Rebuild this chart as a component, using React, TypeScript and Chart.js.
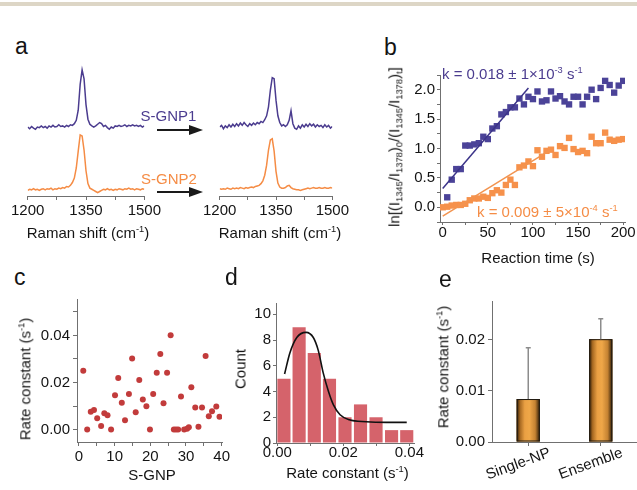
import React, { useEffect, useRef } from "react";
import { Chart, registerables } from "chart.js";

Chart.register(...registerables);

const FONT = '"Liberation Sans", Arial, Helvetica, sans-serif';
const AXIS = "#707070";
const INK = "#141414";
const PURPLE = "#4b3c8f";
const ORANGE = "#f58c45";
const PURPLE_PT = "#4b4398";
const ORANGE_PT = "#f6914b";
const RED_PT = "#c23b3b";
const BAR_RED = "#d5636b";

// ---------- Panel a: Raman spectra ----------
const wavenumbers = [
  1200, 1205, 1210, 1215, 1220, 1225, 1230, 1235, 1240, 1245,
  1250, 1255, 1260, 1265, 1270, 1275, 1280, 1285, 1290, 1295,
  1300, 1305, 1310, 1315, 1320, 1325, 1330, 1335, 1340, 1345,
  1350, 1355, 1360, 1365, 1370, 1375, 1380, 1385, 1390, 1395,
  1400, 1405, 1410, 1415, 1420, 1425, 1430, 1435, 1440, 1445,
  1450, 1455, 1460, 1465, 1470, 1475, 1480, 1485, 1490, 1495,
  1500,
];
const gnp1Before = [
  0.02, -0.01, 0.03, 0.0, -0.02, 0.02, 0.01, 0.04, 0.01, 0.03,
  0.0, 0.04, 0.02, 0.05, 0.02, 0.03, 0.06, 0.03, 0.04, 0.02,
  0.05, 0.03, 0.06, 0.05, 0.08, 0.14, 0.32, 0.78, 1.04, 0.88,
  0.42, 0.16, 0.07, 0.04, 0.02, 0.04, 0.07, 0.1, 0.08, 0.03,
  0.05, 0.01, -0.02, 0.02, 0.0, 0.04, 0.03, 0.05, 0.03, 0.04,
  0.06, 0.03, 0.05, 0.04, 0.06, 0.04, 0.05, 0.03, 0.05, 0.02,
  0.04,
];
const gnp2Before = [
  0.0, 0.02, 0.01, 0.03, 0.01, 0.02, 0.0, 0.02, 0.03, 0.01,
  0.03, 0.02, 0.04, 0.01, 0.03, 0.02, 0.04, 0.03, 0.05, 0.04,
  0.07, 0.06, 0.09, 0.14, 0.22, 0.4, 0.7, 0.99, 0.97, 0.72,
  0.35, 0.12, 0.04, 0.02, 0.0, -0.02, -0.04, -0.02, 0.0, 0.02,
  0.01, 0.03, 0.01, 0.02, 0.0, 0.02, 0.01, 0.03, 0.02, 0.01,
  0.03, 0.02, 0.04, 0.02, 0.03, 0.01, 0.03, 0.02, 0.01, 0.03,
  0.02,
];
const gnp1After = [
  0.02, 0.05, -0.01, 0.04, 0.01, 0.06, 0.02, 0.07, 0.03, 0.08,
  0.04, 0.09, 0.05, 0.1, 0.06, 0.03, 0.08, 0.05, 0.09, 0.06,
  0.1, 0.08, 0.12, 0.1, 0.15, 0.22, 0.38, 0.68, 0.9, 0.88,
  0.5, 0.22, 0.1, 0.04, 0.06, 0.03, 0.06, 0.14, 0.31, 0.08,
  0.0, -0.02, 0.04, 0.0, 0.06, 0.02, 0.07, 0.03, 0.08, 0.04,
  0.07, 0.02, 0.06, 0.03, 0.05, 0.01, 0.06, 0.02, 0.05, 0.0,
  0.03,
];
const gnp2After = [
  0.03, 0.02, 0.03, 0.02, 0.04, 0.03, 0.02, 0.04, 0.03, 0.04,
  0.03, 0.05, 0.04, 0.03, 0.05, 0.04, 0.05, 0.06, 0.05, 0.07,
  0.08, 0.09, 0.12, 0.17, 0.27, 0.45, 0.72, 0.9, 0.92, 0.7,
  0.34, 0.13, 0.06, 0.04, 0.04, 0.05, 0.08, 0.09, 0.05, 0.03,
  0.02, 0.01, 0.01, 0.0, 0.01, 0.02, 0.03, 0.04, 0.03, 0.04,
  0.05, 0.04, 0.04, 0.05, 0.04, 0.04, 0.05, 0.04, 0.04, 0.05,
  0.04,
];
const spectrumOffset = 1.11;

// ---------- Panel b: kinetics ----------
const timesPurple = [
  5, 10, 15, 20, 25, 30, 35, 40, 45, 50, 55, 60, 65, 70, 75, 80, 85, 90, 95, 100,
  105, 110, 115, 120, 125, 130, 135, 140, 145, 150, 155, 160, 165, 170, 175, 180, 185, 190, 195, 200,
];
const lnRatioPurple = [
  0.17, 0.47, 0.65, 0.65, 1.05, 1.05, 1.07, 1.09, 1.2, 1.16,
  1.34, 1.38, 1.58, 1.62, 1.7, 1.7, 1.85, 1.75, 1.88, 1.84,
  1.97, 1.8, 1.82, 1.97, 1.85, 1.89, 1.8, 1.75, 1.88, 1.88,
  1.75, 1.88, 2.0, 1.84, 2.03, 2.15, 2.08, 1.95, 2.07, 2.15,
];
const timesOrange = [
  0, 5, 10, 15, 20, 25, 30, 35, 40, 45, 50, 55, 60, 65, 70, 75, 80, 85, 90, 95, 100,
  105, 110, 115, 120, 125, 130, 135, 140, 145, 150, 155, 160, 165, 170, 175, 180, 185, 190, 195, 200,
];
const lnRatioOrange = [
  0.0, 0.01, 0.03, 0.04, 0.04, 0.06, 0.12, 0.15, 0.15, 0.18,
  0.16, 0.24, 0.29, 0.25, 0.38, 0.47, 0.38, 0.68, 0.71, 0.78,
  0.7, 0.97, 0.86, 0.96, 0.98, 0.89, 1.04, 1.01, 1.18, 0.99,
  0.94, 0.96, 0.92, 1.2, 1.09, 1.09, 1.27, 1.15, 1.13, 1.15,
  1.16,
];
const fitPurpleT = [0, 95];
const fitPurpleV = [0.32, 2.03];
const fitOrangeT = [0, 120];
const fitOrangeV = [-0.15, 0.98];

// ---------- Panel c: rate constants per S-GNP ----------
const gnpIndex = [
  1.2, 2.3, 3.3, 4.2, 5.1, 6.2, 7.1, 8.0, 9.0, 10.1,
  11.0, 12.0, 12.9, 14.0, 14.9, 15.9, 16.9, 17.9, 18.9, 19.9,
  20.8, 21.8, 22.8, 23.7, 24.7, 25.7, 26.6, 27.2, 27.8, 28.6,
  29.5, 30.3, 30.8, 31.5, 32.6, 33.5, 34.5, 35.5, 36.4, 37.3,
  38.5, 39.4,
];
const gnpRate = [
  0.025, 0.0, 0.0076, 0.0083, 0.0048, 0.0015, 0.0069, 0.0061, 0.0, 0.0146,
  0.0219, 0.0114, 0.0039, 0.0151, 0.0302, 0.0073, 0.0211, 0.0128, 0.0099, 0.0,
  0.0151, 0.0241, 0.0321, 0.0112, 0.0241, 0.0401, 0.0, 0.0, 0.0, 0.014,
  0.0, 0.0003, 0.001, 0.018, 0.0094, 0.0012, 0.0094, 0.0313, 0.0057, 0.0078,
  0.0098, 0.0054,
];

// ---------- Panel d: histogram ----------
const binCenters = [0.002, 0.0066, 0.0112, 0.0158, 0.0205, 0.0252, 0.0299, 0.0346, 0.0392];
const binCounts = [5, 9, 7, 5, 2, 3, 2, 1, 1];
const fitRateX = [0.0022, 0.0038, 0.0059, 0.0087, 0.0109, 0.0124, 0.0139, 0.0155, 0.017, 0.019, 0.0218, 0.0269, 0.033, 0.0392];
const fitCountY = [5.36, 7.0, 8.2, 8.6, 8.2, 7.2, 5.45, 4.0, 2.96, 2.2, 1.8, 1.65, 1.6, 1.6];

// ---------- Panel e: comparison ----------
const methods = ["Single-NP", "Ensemble"];
const meanRates = [0.0084, 0.0201];
const upperErr = [0.0184, 0.0241];

// ---------- helpers ----------
type Pad = { left: number; top: number; right: number; bottom: number };
interface Frame { left: number; top: number; width: number; height: number; padding: Pad }

function frame(L: number, T: number, R: number, B: number, yW: number, xH: number, pad: Pad): Frame {
  const left = L - yW - pad.left;
  const top = T - pad.top;
  return { left, top, width: R + pad.right - left, height: B + xH + pad.bottom - top, padding: pad };
}

function baseOptions(f: Frame): any {
  return {
    responsive: false,
    animation: false,
    events: [],
    layout: { padding: f.padding, autoPadding: false },
    plugins: { legend: { display: false }, tooltip: { enabled: false } },
  };
}

function axis(o: {
  axis: "x" | "y"; min: number; max: number; step: number; fmt: (v: number) => string;
  fixed: number; tl?: number; pad?: number; size?: number;
}): any {
  return {
    type: "linear",
    position: o.axis === "x" ? "bottom" : "left",
    min: o.min,
    max: o.max,
    offset: false,
    grid: { drawOnChartArea: false, drawTicks: true, tickLength: o.tl ?? 4, color: AXIS, lineWidth: 1, offset: false },
    border: { display: true, color: AXIS, width: 1 },
    ticks: {
      stepSize: o.step, includeBounds: false, autoSkip: false, maxRotation: 0, minRotation: 0, maxTicksLimit: 100,
      padding: o.pad ?? 3, color: INK, font: { family: FONT, size: o.size ?? 15 },
      callback: (v: any) => o.fmt(Number(v)),
    },
    afterFit: (s: any) => { if (o.axis === "x") s.height = o.fixed; else s.width = o.fixed; },
  };
}

function ChartCanvas({ f, make }: { f: Frame; make: () => any }) {
  const ref = useRef<HTMLCanvasElement>(null);
  useEffect(() => {
    let chart: any = null;
    try {
      chart = new Chart(ref.current as HTMLCanvasElement, make());
    } catch (e) {
      console.error(e);
    }
    return () => { if (chart) chart.destroy(); };
  }, []);
  return (
    <canvas
      ref={ref}
      width={f.width}
      height={f.height}
      style={{ position: "absolute", left: f.left, top: f.top, width: f.width, height: f.height }}
    />
  );
}

const Sup = ({ children }: { children: React.ReactNode }) => (
  <span style={{ fontSize: "0.62em", position: "relative", top: "-0.62em" }}>{children}</span>
);
const Sub = ({ children }: { children: React.ReactNode }) => (
  <span style={{ fontSize: "0.62em", position: "relative", top: "0.32em" }}>{children}</span>
);

function Label({ x, y, size = 15, color = INK, rotate = false, align = "center", children }: {
  x: number; y: number; size?: number; color?: string; rotate?: boolean; align?: "center" | "left"; children: React.ReactNode;
}) {
  const tx = align === "center" ? "-50%" : "0";
  return (
    <div
      style={{
        position: "absolute", left: x, top: y,
        transform: `translate(${tx}, -50%)${rotate ? " rotate(-90deg)" : ""}`,
        fontFamily: FONT, fontSize: size, color, whiteSpace: "nowrap", lineHeight: 1,
      }}
    >
      {children}
    </div>
  );
}

// ---------- chart configs ----------
const fALeft = frame(25, 62, 147, 196, 0, 30, { left: 16, top: 0, right: 16, bottom: 0 });
const fARight = frame(217, 62, 335, 196, 0, 30, { left: 16, top: 0, right: 16, bottom: 0 });

function spectrumConfig(f: Frame, top: number[], bottom: number[]) {
  return () => ({
    type: "line",
    data: {
      datasets: [
        { data: wavenumbers.map((w, i) => ({ x: w, y: top[i] + spectrumOffset })), borderColor: PURPLE, borderWidth: 1.5, pointRadius: 0, tension: 0 },
        { data: wavenumbers.map((w, i) => ({ x: w, y: bottom[i] })), borderColor: ORANGE, borderWidth: 1.5, pointRadius: 0, tension: 0 },
      ],
    },
    options: {
      ...baseOptions(f),
      scales: {
        x: axis({ axis: "x", min: 1200, max: 1500, step: 75, fixed: 30, size: 15, tl: 4, pad: 2,
          fmt: (v) => (Math.round(v - 1200) % 150 === 0 ? String(Math.round(v)) : "") }),
        y: { display: false, min: -0.1, max: 2.29 },
      },
    },
  });
}

const fB = frame(440, 70, 625, 222, 40, 22, { left: 0, top: 6, right: 12, bottom: 0 });
const makeB = () => ({
  type: "scatter",
  data: {
    datasets: [
      { data: fitPurpleT.map((t, i) => ({ x: t, y: fitPurpleV[i] })), showLine: true, borderColor: "#3c3489", borderWidth: 1.5, pointRadius: 0 },
      { data: fitOrangeT.map((t, i) => ({ x: t, y: fitOrangeV[i] })), showLine: true, borderColor: "#f29450", borderWidth: 1.5, pointRadius: 0 },
      { data: timesPurple.map((t, i) => ({ x: t, y: lnRatioPurple[i] })), pointStyle: "rect", pointRadius: 4.5, backgroundColor: PURPLE_PT, borderWidth: 0 },
      { data: timesOrange.map((t, i) => ({ x: t, y: lnRatioOrange[i] })), pointStyle: "rect", pointRadius: 4.5, backgroundColor: ORANGE_PT, borderWidth: 0 },
    ],
  },
  options: {
    ...baseOptions(fB),
    scales: {
      x: axis({ axis: "x", min: -3, max: 202, step: 25, fixed: 22, tl: 3, pad: -1,
        fmt: (v) => (Math.round(v) % 50 === 0 ? String(Math.round(v)) : "") }),
      y: axis({ axis: "y", min: -0.25, max: 2.25, step: 0.25, fixed: 40, tl: 3, pad: 2,
        fmt: (v) => (Math.abs(Math.round(v * 4)) % 2 === 0 ? v.toFixed(1) : "") }),
    },
  },
});

const fC = frame(77, 293, 222, 442, 45, 34, { left: 0, top: 6, right: 14, bottom: 0 });
const makeC = () => ({
  type: "scatter",
  data: {
    datasets: [
      { data: gnpIndex.map((n, i) => ({ x: n, y: gnpRate[i] })), pointRadius: 3, backgroundColor: RED_PT, borderWidth: 0 },
    ],
  },
  options: {
    ...baseOptions(fC),
    scales: {
      x: axis({ axis: "x", min: -0.56, max: 40.1, step: 5, fixed: 34, tl: 4, pad: 2,
        fmt: (v) => (Math.round(v) % 10 === 0 ? String(Math.round(v)) : "") }),
      y: axis({ axis: "y", min: -0.0053, max: 0.0555, step: 0.01, fixed: 45, tl: 4, pad: 3,
        fmt: (v) => (Math.round(v * 100) % 2 === 0 ? v.toFixed(2) : "") }),
    },
  },
});

const fD = frame(276, 298, 414, 443, 35, 30, { left: 0, top: 6, right: 16, bottom: 0 });
const makeD = () => ({
  type: "bar",
  data: {
    datasets: [
      { type: "line", data: fitRateX.map((r, i) => ({ x: r, y: fitCountY[i] })), borderColor: "#111", borderWidth: 1.6, pointRadius: 0, cubicInterpolationMode: "monotone" },
      { type: "bar", data: binCenters.map((r, i) => ({ x: r, y: binCounts[i] })), backgroundColor: BAR_RED, borderWidth: 0, barPercentage: 0.865, categoryPercentage: 1 },
    ],
  },
  options: {
    ...baseOptions(fD),
    scales: {
      x: axis({ axis: "x", min: -0.0004, max: 0.0414, step: 0.01, fixed: 30, tl: 3, pad: -2, size: 15,
        fmt: (v) => (Math.round(v * 100) % 2 === 0 ? v.toFixed(2) : "") }),
      y: axis({ axis: "y", min: 0, max: 10.88, step: 2, fixed: 35, tl: 3, pad: 2, size: 15,
        fmt: (v) => String(Math.round(v)) }),
    },
  },
});

const fE = frame(492, 295, 637, 442, 45, 45, { left: 0, top: 6, right: 0, bottom: 0 });

// paints the cylinder-like shading over each bar, using the bar element's own geometry
const barShading = {
  id: "barShading",
  afterDatasetsDraw(chart: any) {
    const { ctx } = chart;
    const meta = chart.getDatasetMeta(0);
    ctx.save();
    meta.data.forEach((bar: any) => {
      const { x, y, base, width } = bar.getProps(["x", "y", "base", "width"], true);
      if (![x, y, base, width].every((v: number) => Number.isFinite(v))) return;
      const half = width / 2;
      const g = ctx.createLinearGradient(x - half, 0, x + half, 0);
      g.addColorStop(0, "#2a1a06");
      g.addColorStop(0.15, "#a86a22");
      g.addColorStop(0.35, "#eaa043");
      g.addColorStop(0.55, "#efa748");
      g.addColorStop(0.8, "#c48232");
      g.addColorStop(1, "#2a1a06");
      ctx.fillStyle = g;
      ctx.fillRect(x - half, y, width, base - y);
      ctx.strokeStyle = "#1f1a12";
      ctx.lineWidth = 1;
      ctx.strokeRect(x - half + 0.5, y + 0.5, width - 1, base - y - 1);
    });
    ctx.restore();
  },
};
const errorBars = {
  id: "errorBars",
  afterDatasetsDraw(chart: any) {
    const { ctx } = chart;
    const xs = chart.scales.x;
    const ys = chart.scales.y;
    ctx.save();
    ctx.strokeStyle = "#8c8c8c";
    ctx.lineWidth = 1.5;
    meanRates.forEach((v, i) => {
      const px = xs.getPixelForValue(i);
      const y0 = ys.getPixelForValue(v);
      const y1 = ys.getPixelForValue(upperErr[i]);
      ctx.beginPath();
      ctx.moveTo(px, y0);
      ctx.lineTo(px, y1);
      ctx.moveTo(px - 2.5, y1);
      ctx.lineTo(px + 2.5, y1);
      ctx.stroke();
    });
    ctx.restore();
  },
};
const rotatedLabels = {
  id: "rotatedLabels",
  afterDraw(chart: any) {
    const { ctx } = chart;
    const xs = chart.scales.x;
    ctx.save();
    ctx.font = `15px ${FONT}`;
    ctx.fillStyle = INK;
    ctx.textAlign = "center";
    ctx.textBaseline = "middle";
    (chart.data.labels as string[]).forEach((lab, i) => {
      const px = xs.getPixelForValue(i);
      ctx.save();
      ctx.translate(px - 10, xs.top + 22);
      ctx.rotate((-20 * Math.PI) / 180);
      ctx.fillText(lab, 0, 0);
      ctx.restore();
    });
    ctx.restore();
  },
};
const makeE = () => ({
  type: "bar",
  data: {
    labels: methods,
    datasets: [
      {
        data: meanRates,
        barPercentage: 0.32,
        categoryPercentage: 1,
        borderWidth: 0,
        backgroundColor: "#e99c40",
      },
    ],
  },
  options: {
    ...baseOptions(fE),
    scales: {
      x: {
        type: "category", offset: true,
        grid: { offset: false, drawOnChartArea: false, drawTicks: true, tickLength: 4, color: AXIS },
        border: { display: true, color: AXIS, width: 1 },
        ticks: { display: false },
        afterFit: (s: any) => { s.height = 45; },
      },
      y: axis({ axis: "y", min: 0, max: 0.02756, step: 0.01, fixed: 45, tl: 4, pad: 3,
        fmt: (v) => v.toFixed(2) }),
    },
  },
  plugins: [barShading, errorBars, rotatedLabels],
});

function Arrow({ y }: { y: number }) {
  return (
    <svg style={{ position: "absolute", left: 150, top: y - 8, width: 60, height: 16 }} width={60} height={16}>
      <line x1={7} y1={8} x2={42} y2={8} stroke="#1a1a1a" strokeWidth={2} />
      <polygon points="39,3 53,8 39,13" fill="#1a1a1a" />
    </svg>
  );
}

export default function App() {
  return (
    <div style={{ position: "absolute", left: 0, top: 0, width: 637, height: 490, overflow: "hidden", background: "#fff" }}>
      <div style={{ position: "absolute", left: 0, top: 2, width: 637, height: 4, background: "#ddd6c6" }} />

      <ChartCanvas f={fALeft} make={spectrumConfig(fALeft, gnp1Before, gnp2Before)} />
      <ChartCanvas f={fARight} make={spectrumConfig(fARight, gnp1After, gnp2After)} />
      <ChartCanvas f={fB} make={makeB} />
      <ChartCanvas f={fC} make={makeC} />
      <ChartCanvas f={fD} make={makeD} />
      <ChartCanvas f={fE} make={makeE} />

      {/* panel letters */}
      <Label x={15} y={46} size={23} align="left">a</Label>
      <Label x={384} y={47} size={23} align="left">b</Label>
      <Label x={14} y={277} size={23} align="left">c</Label>
      <Label x={225} y={277} size={23} align="left">d</Label>
      <Label x={439} y={279} size={23} align="left">e</Label>

      {/* panel a annotations */}
      <Label x={168.5} y={115} color={PURPLE}>S-GNP1</Label>
      <Label x={169} y={177.5} color={ORANGE}>S-GNP2</Label>
      <Arrow y={130} />
      <Arrow y={192} />
      <Label x={88} y={233}>Raman shift (cm<Sup>-1</Sup>)</Label>
      <Label x={280} y={233}>Raman shift (cm<Sup>-1</Sup>)</Label>

      {/* panel b annotations */}
      <Label x={442} y={73.5} align="left" color={PURPLE}>k = 0.018 ± 1×10<Sup>-3</Sup> s<Sup>-1</Sup></Label>
      <Label x={477} y={212} align="left" color={ORANGE}>k = 0.009 ± 5×10<Sup>-4</Sup> s<Sup>-1</Sup></Label>
      <Label x={394} y={147} rotate>
        ln[(I<Sub>1345</Sub>/I<Sub>1378</Sub>)<Sub>0</Sub>/(I<Sub>1345</Sub>/I<Sub>1378</Sub>)<Sub>t</Sub>]
      </Label>
      <Label x={538} y={257}>Reaction time (s)</Label>

      {/* panel c */}
      <Label x={25} y={379} rotate>Rate constant (s<Sup>-1</Sup>)</Label>
      <Label x={152} y={473.5}>S-GNP</Label>

      {/* panel d */}
      <Label x={240} y={369} rotate>Count</Label>
      <Label x={347.5} y={473}>Rate constant (s<Sup>-1</Sup>)</Label>

      {/* panel e */}
      <Label x={443} y={367} rotate>Rate constant (s<Sup>-1</Sup>)</Label>
    </div>
  );
}
